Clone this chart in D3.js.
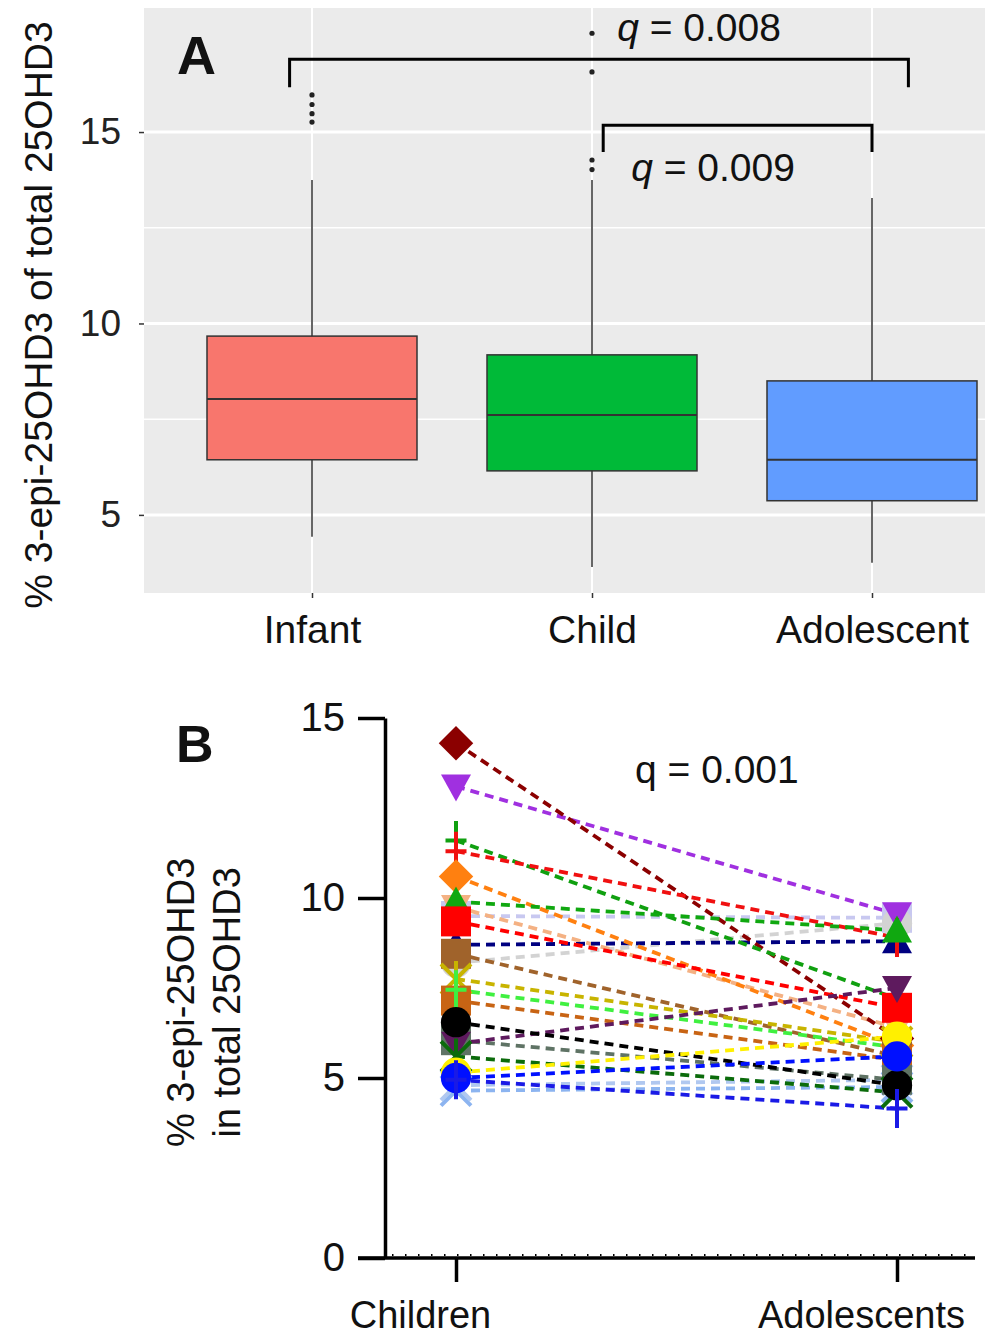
<!DOCTYPE html>
<html>
<head>
<meta charset="utf-8">
<script src="https://cdn.jsdelivr.net/npm/d3@7"></script>
<style>
  body { margin: 0; background: #fff; }
  svg text { font-family: "Liberation Sans", Arial, sans-serif; }
</style>
</head>
<body>
<div id="chart"></div>
<script>
// ---- panel A: box plot summaries ----
const groupsA = ["Infant", "Child", "Adolescent"];
const boxColors = ["#F8766D", "#00BA38", "#619CFF"];
const whiskLo = [4.43, 3.64, 3.75];
const q1 = [6.44, 6.15, 5.37];
const median = [8.03, 7.61, 6.44];
const q3 = [9.67, 9.18, 8.50];
const whiskHi = [13.75, 13.75, 13.28];
const outliers = [[15.97, 15.72, 15.48, 15.26], [17.58, 16.57, 14.27, 14.02], []];
const ticksA = [5, 10, 15];
const minorA = [7.5, 12.5];

// significance brackets (x in category units, y in data units)
const brFrom = [0.92, 2.04];
const brTo = [3.13, 3.0];
const brTop = [16.9, 15.18];
const brBottom = [16.17, 14.48];
const brLabel = ["0.008", "0.009"];
const brLabelX = [2.09, 2.14];
const brLabelY = [17.38, 13.73];

// ---- panel B: paired values (one entry per subject) ----
const groupsB = ["Children", "Adolescents"];
const ticksB = [0, 5, 10, 15];
const children =    [9.5, 8.2, 4.8, 4.65, 9.75, 8.7, 13.1, 14.3, 11.6, 11.3, 10.6, 9.9, 9.35, 8.45, 7.75, 7.15, 7.45, 6.05, 5.95, 5.6, 6.55, 5.15, 5.0, 4.95];
const adolescents = [9.45, 9.3, 4.95, 4.75, 6.4, 8.8, 9.55, 6.1, 7.2, 8.9, 5.9, 9.1, 6.95, 5.6, 6.0, 5.5, 5.85, 4.95, 7.5, 4.6, 4.8, 6.15, 5.6, 4.15];
const subjColors = ["#C8C8F0", "#D3D3D3", "#B0C8F0", "#8CB4F0", "#F4B183", "#000080", "#A030E0", "#8B0000",
  "#10A010", "#F01010", "#FF8010", "#10A810", "#FF0000", "#A0632B", "#C8B400", "#C86414",
  "#40F040", "#5F7365", "#5E1A5E", "#0B6B0B", "#000000", "#FFF000", "#0010FF", "#1A1AE6"];
const subjShapes = ["square", "circle", "cross", "cross", "triDown", "triUp", "triDown", "diamond",
  "plus", "plus", "diamond", "triUp", "square", "square", "asterisk", "square",
  "plus", "square", "triDown", "asterisk", "circle", "circle", "circle", "plus"];

const W = 985, H = 1338;
const svg = d3.select("#chart").append("svg")
  .attr("width", W).attr("height", H);

// ================= Panel A =================
const xA = d3.scaleLinear().domain([0.4, 3.6]).range([144, 1040]);
const yA = d3.scaleLinear().domain([2.96, 18.24]).range([593, 8]);
const step = xA(2) - xA(1);
const boxW = step * 0.75;

const gA = svg.append("g");
gA.append("rect")
  .attr("x", xA(0.4)).attr("y", yA(18.24))
  .attr("width", xA(3.6) - xA(0.4)).attr("height", yA(2.96) - yA(18.24))
  .attr("fill", "#EBEBEB");

gA.selectAll(".minor").data(minorA).enter().append("line")
  .attr("x1", xA(0.4)).attr("x2", xA(3.6))
  .attr("y1", d => yA(d)).attr("y2", d => yA(d))
  .attr("stroke", "#fff").attr("stroke-width", 1.5);
gA.selectAll(".major").data(ticksA).enter().append("line")
  .attr("x1", xA(0.4)).attr("x2", xA(3.6))
  .attr("y1", d => yA(d)).attr("y2", d => yA(d))
  .attr("stroke", "#fff").attr("stroke-width", 3);
gA.selectAll(".vgrid").data(groupsA).enter().append("line")
  .attr("x1", (d, i) => xA(i + 1)).attr("x2", (d, i) => xA(i + 1))
  .attr("y1", yA(18.24)).attr("y2", yA(2.96))
  .attr("stroke", "#fff").attr("stroke-width", 2);

const boxes = gA.selectAll(".box").data(groupsA).enter().append("g");
boxes.append("line")
  .attr("x1", (d, i) => xA(i + 1)).attr("x2", (d, i) => xA(i + 1))
  .attr("y1", (d, i) => yA(whiskHi[i])).attr("y2", (d, i) => yA(whiskLo[i]))
  .attr("stroke", "#333").attr("stroke-width", 1.5);
boxes.append("rect")
  .attr("x", (d, i) => xA(i + 1) - boxW / 2).attr("width", boxW)
  .attr("y", (d, i) => yA(q3[i])).attr("height", (d, i) => yA(q1[i]) - yA(q3[i]))
  .attr("fill", (d, i) => boxColors[i]).attr("stroke", "#333").attr("stroke-width", 1.5);
boxes.append("line")
  .attr("x1", (d, i) => xA(i + 1) - boxW / 2).attr("x2", (d, i) => xA(i + 1) + boxW / 2)
  .attr("y1", (d, i) => yA(median[i])).attr("y2", (d, i) => yA(median[i]))
  .attr("stroke", "#333").attr("stroke-width", 2);

const outPts = [];
outliers.forEach((arr, i) => arr.forEach(v => outPts.push({ g: i + 1, v })));
gA.selectAll(".out").data(outPts).enter().append("circle")
  .attr("cx", d => xA(d.g)).attr("cy", d => yA(d.v)).attr("r", 2.6)
  .attr("fill", "#222");

// axes of panel A
const yAxisA = gA.append("g")
  .attr("transform", `translate(${xA(0.4)},0)`)
  .call(d3.axisLeft(yA).tickValues(ticksA).tickSize(5).tickPadding(18).tickSizeOuter(0));
yAxisA.select(".domain").remove();
yAxisA.selectAll("line").attr("stroke", "#333").attr("stroke-width", 1.5);
yAxisA.selectAll("text").attr("font-size", 37).attr("fill", "#222");

const xAxisA = gA.append("g")
  .attr("transform", `translate(0,${yA(2.96)})`)
  .call(d3.axisBottom(xA).tickValues([1, 2, 3]).tickFormat((d, i) => groupsA[i])
    .tickSize(5).tickPadding(17).tickSizeOuter(0));
xAxisA.select(".domain").remove();
xAxisA.selectAll("line").attr("stroke", "#333").attr("stroke-width", 1.5);
xAxisA.selectAll("text").attr("font-size", 39).attr("fill", "#111");

gA.append("text")
  .attr("transform", "translate(52,315) rotate(-90)")
  .attr("text-anchor", "middle").attr("font-size", 39).attr("fill", "#111")
  .text("% 3-epi-25OHD3 of total 25OHD3");

gA.append("text")
  .attr("x", 177).attr("y", 74)
  .attr("font-size", 54).attr("font-weight", "bold").attr("fill", "#111")
  .text("A");

// brackets
brFrom.forEach((f, i) => {
  gA.append("path")
    .attr("d", `M${xA(f)},${yA(brBottom[i])}V${yA(brTop[i])}H${xA(brTo[i])}V${yA(brBottom[i])}`)
    .attr("fill", "none").attr("stroke", "#000").attr("stroke-width", 3);
  const t = gA.append("text")
    .attr("x", xA(brLabelX[i])).attr("y", yA(brLabelY[i]))
    .attr("font-size", 39).attr("fill", "#111");
  t.append("tspan").attr("font-style", "italic").text("q");
  t.append("tspan").text(" = " + brLabel[i]);
});

// ================= Panel B =================
const xB = d3.scalePoint().domain(groupsB).range([456, 897]);
const yB = d3.scaleLinear().domain([0, 15]).range([1258, 718]);
const gB = svg.append("g");

const yAxisB = gB.append("g")
  .attr("transform", "translate(385,0)")
  .call(d3.axisLeft(yB).tickValues(ticksB).tickSize(27).tickPadding(13).tickSizeOuter(0));
yAxisB.selectAll("line, path").attr("stroke", "#000").attr("stroke-width", 3.5);
yAxisB.selectAll("text").attr("font-size", 40).attr("fill", "#111");

const xAxisB = gB.append("g")
  .attr("transform", `translate(0,${yB(0)})`)
  .call(d3.axisBottom(xB).tickSize(24).tickPadding(19).tickSizeOuter(0));
xAxisB.select(".domain").remove();
xAxisB.selectAll("line").attr("stroke", "#000").attr("stroke-width", 3.5);
xAxisB.selectAll("text").attr("font-size", 38).attr("fill", "#111").attr("dx", -36);
gB.append("line")
  .attr("x1", 358).attr("x2", 975).attr("y1", yB(0)).attr("y2", yB(0))
  .attr("stroke", "#000").attr("stroke-width", 3.5);
gB.append("line")
  .attr("x1", 392).attr("x2", 975).attr("y1", yB(0) - 3).attr("y2", yB(0) - 3)
  .attr("stroke", "#000").attr("stroke-width", 2).attr("stroke-dasharray", "1.5,11.5");

const titleB = gB.append("text")
  .attr("transform", `translate(194,${yB(7.1)}) rotate(-90)`)
  .attr("text-anchor", "middle").attr("font-size", 38).attr("fill", "#111");
titleB.append("tspan").attr("x", 0).attr("dy", 0).text("% 3-epi-25OHD3");
titleB.append("tspan").attr("x", 0).attr("dy", 46).text("in total 25OHD3");

gB.append("text")
  .attr("x", 176).attr("y", 762)
  .attr("font-size", 52).attr("font-weight", "bold").attr("fill", "#111")
  .text("B");
gB.append("text")
  .attr("x", 635).attr("y", 783)
  .attr("font-size", 39).attr("fill", "#111")
  .text("q = 0.001");

// marker shapes
const shapeTypes = {
  square: { draw(c, s) { const r = Math.sqrt(s) / 2; c.rect(-r, -r, 2 * r, 2 * r); } },
  diamond: { draw(c, s) { const r = Math.sqrt(s) / 2 * 1.15; c.moveTo(0, -r); c.lineTo(r, 0); c.lineTo(0, r); c.lineTo(-r, 0); c.closePath(); } },
  triUp: { draw(c, s) { const r = Math.sqrt(s) / 2; c.moveTo(0, -r); c.lineTo(r, r * 0.8); c.lineTo(-r, r * 0.8); c.closePath(); } },
  triDown: { draw(c, s) { const r = Math.sqrt(s) / 2; c.moveTo(0, r); c.lineTo(r, -r * 0.8); c.lineTo(-r, -r * 0.8); c.closePath(); } },
  circle: d3.symbolCircle,
  plus: { draw(c, s) { const r = Math.sqrt(s) / 2; c.moveTo(0, -r * 1.3); c.lineTo(0, r * 1.3); c.moveTo(-r * 0.7, 0); c.lineTo(r * 0.7, 0); } },
  cross: { draw(c, s) { const r = Math.sqrt(s) / 2; c.moveTo(-r, -r); c.lineTo(r, r); c.moveTo(-r, r); c.lineTo(r, -r); } },
  asterisk: { draw(c, s) { const r = Math.sqrt(s) / 2; c.moveTo(-r, -r); c.lineTo(r, r); c.moveTo(-r, r); c.lineTo(r, -r); c.moveTo(0, -r * 1.2); c.lineTo(0, r * 1.2); } }
};
const stroked = new Set(["plus", "cross", "asterisk"]);

const subjects = children.map((c, i) => ({ c, a: adolescents[i], color: subjColors[i], shape: subjShapes[i] }));

gB.selectAll(".pair").data(subjects).enter().append("line")
  .attr("x1", xB("Children")).attr("x2", xB("Adolescents"))
  .attr("y1", d => yB(d.c)).attr("y2", d => yB(d.a))
  .attr("stroke", d => d.color).attr("stroke-width", 3.8)
  .attr("stroke-dasharray", "9,6");

const marks = [];
subjects.forEach(d => {
  marks.push({ g: "Adolescents", v: d.a, color: d.color, shape: d.shape });
});
subjects.forEach(d => {
  marks.push({ g: "Children", v: d.c, color: d.color, shape: d.shape });
});

gB.selectAll(".mark").data(marks).enter().append("path")
  .attr("transform", d => `translate(${xB(d.g)},${yB(d.v)})`)
  .attr("d", d => d3.symbol().type(shapeTypes[d.shape]).size(d.shape === "circle" ? 720 : 900)())
  .attr("fill", d => stroked.has(d.shape) ? "none" : d.color)
  .attr("stroke", d => stroked.has(d.shape) ? d.color : "none")
  .attr("stroke-width", 4);
</script>
</body>
</html>
